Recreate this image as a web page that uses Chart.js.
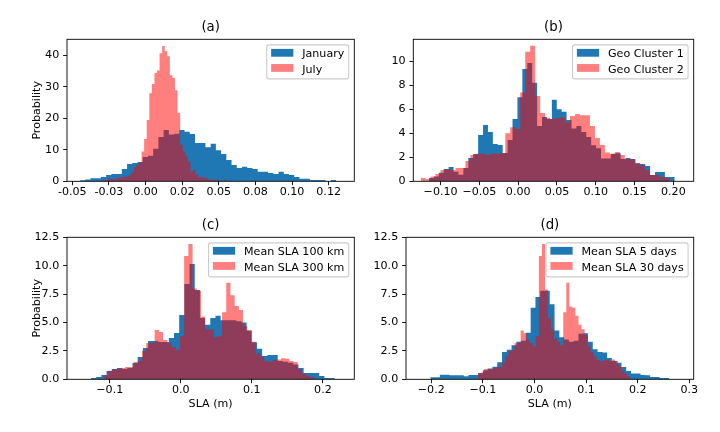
<!DOCTYPE html>
<html>
<head>
<meta charset="utf-8">
<script src="https://cdn.jsdelivr.net/npm/chart.js@4.4.0/dist/chart.umd.min.js"></script>
<style>
  body { margin: 0; background: #fff; }
  #fig { position: relative; width: 720px; height: 432px; }
  #fig canvas { position: absolute; left: 0; top: 0; }
</style>
</head>
<body>
<div id="fig">
  <canvas id="pa" width="720" height="432"></canvas>
  <canvas id="pb" width="720" height="432"></canvas>
  <canvas id="pc" width="720" height="432"></canvas>
  <canvas id="pd" width="720" height="432"></canvas>
</div>
<script>
// ---- (a) January / July ----
const janStart = -0.0447, janWidth = 0.003566;
const janCounts = [0.3, 0.6, 1.0, 1.0, 1.4, 2.0, 2.3, 2.3, 3.9, 5.5,
  5.8, 6.1, 7.7, 8.1, 10.3, 14.1, 16.3, 14.9, 15.1, 16.3,
  15.7, 15.0, 12.2, 12.2, 10.8, 11.9, 9.9, 8.7, 6.8, 5.2,
  4.2, 4.6, 4.2, 3.9, 3.0, 3.0, 2.6, 2.3, 3.0, 2.3,
  2.0, 1.4, 0.8, 0.8, 0.4, 0.4, 0.4, 0.1, 0.4, 0.05];
const julStart = -0.0308, julWidth = 0.001756;
const julCounts = [0.2, 0.3, 0.3, 0.9, 0.7, 0.6, 1.0, 1.2, 1.4, 1.4,
  1.5, 2.0, 2.8, 4.5, 5.3, 6.0, 9.5, 13.4, 19.5, 28.0,
  30.9, 34.4, 35.2, 40.7, 43.0, 41.3, 39.7, 33.7, 32.8, 28.9,
  21.7, 11.6, 9.5, 7.9, 6.3, 3.0, 3.7, 2.1, 1.4, 1.4,
  1.2, 1.0, 0.5, 0.5, 0.5, 0.5, 0.1, 0.1, 0.5, 0.1];
const aXTicks = [-0.05, -0.025, 0, 0.025, 0.05, 0.075, 0.1, 0.125];
const aXLabels = ['-0.05', '-0.03', '0.00', '0.02', '0.05', '0.08', '0.10', '0.12'];
const aYTicks = [0, 10, 20, 30, 40];
const aYLabels = ['0', '10', '20', '30', '40'];

// ---- (b) Geo clusters ----
const geo1Start = -0.115, geo1Width = 0.006335;
const geo1Counts = [0.28, 0.39, 0.72, 1.03, 1.19, 0.8, 0.55, 1.1, 1.94, 2.28,
  3.86, 4.7, 4.1, 3.1, 3.03, 2.36, 3.44, 5.2, 7.0, 9.36,
  9.86, 8.2, 4.6, 5.36, 5.2, 6.8, 6.0, 5.8, 5.1, 4.4,
  4.6, 4.1, 3.7, 3.0, 2.75, 1.9, 1.9, 2.3, 2.33, 1.86,
  1.94, 1.86, 1.5, 1.44, 1.28, 0.53, 0.78, 0.78, 0.36, 0.36];
const geo2Start = -0.1258, geo2Width = 0.00642;
const geo2Counts = [0.28, 0.2, 0.4, 0.6, 0.95, 1.0, 0.95, 1.1, 1.1, 1.7,
  2.2, 2.3, 2.3, 2.2, 2.3, 2.3, 2.35, 4.0, 4.5, 4.36,
  7.4, 10.8, 11.3, 7.1, 5.7, 5.3, 5.2, 5.3, 5.33, 4.9,
  5.44, 5.6, 5.5, 5.5, 4.6, 3.6, 3.03, 2.4, 2.28, 2.44,
  2.2, 1.86, 1.86, 1.5, 1.36, 0.94, 0.53, 0.53, 0.36, 0.28];
const bXTicks = [-0.10, -0.05, 0, 0.05, 0.10, 0.15, 0.20];
const bXLabels = ['\u22120.10', '\u22120.05', '0.00', '0.05', '0.10', '0.15', '0.20'];
const bYTicks = [0, 2, 4, 6, 8, 10];
const bYLabels = ['0', '2', '4', '6', '8', '10'];

// ---- (c) Mean SLA 100 km / 300 km ----
const km100Start = -0.1264, km100Width = 0.0073;
const km100Counts = [0.12, 0.2, 0.38, 0.73, 0.9, 1.0, 0.9, 1.0, 1.44, 1.96,
  2.76, 3.37, 3.37, 3.28, 3.28, 3.64, 4.08, 5.66, 8.39, 10.15,
  7.86, 5.4, 4.8, 5.4, 5.6, 5.2, 5.2, 5.2, 5.1, 5.0,
  4.3, 3.27, 2.7, 2.05, 2.15, 2.15, 1.6, 1.55, 1.45, 1.3,
  1.0, 0.56, 0.56, 0.56, 0.3, 0.12, 0.12];
const km300Start = -0.1079, km300Width = 0.005926;
const km300Counts = [0.38, 0.75, 0.9, 0.9, 1.0, 1.08, 1.08, 1.52, 1.6, 2.5,
  3.2, 3.2, 4.34, 4.16, 3.46, 3.2, 2.84, 2.6, 3.8, 10.85,
  11.9, 8.0, 7.8, 5.5, 4.4, 4.4, 3.7, 3.8, 5.9, 8.5,
  7.4, 6.45, 6.1, 4.7, 4.3, 3.3, 2.3, 2.0, 1.6, 1.55,
  1.7, 1.75, 1.85, 1.8, 1.62, 1.52, 0.9, 0.5, 0.3, 0.2];
const cXTicks = [-0.1, 0, 0.1, 0.2];
const cXLabels = ['\u22120.1', '0.0', '0.1', '0.2'];

// ---- (d) Mean SLA 5 days / 30 days ----
const day5Start = -0.2019, day5Width = 0.00926;
const day5Counts = [0.18, 0.18, 0.4, 0.4, 0.35, 0.35, 0.35, 0.26, 0.38, 0.38,
  0.56, 0.8, 0.95, 1.1, 1.5, 2.4, 2.6, 3.0, 3.3, 3.4,
  4.1, 6.3, 7.24, 7.8, 7.8, 6.6, 4.3, 3.7, 3.5, 3.3,
  3.4, 4.0, 4.05, 3.3, 2.64, 2.4, 2.35, 1.88, 1.6, 1.45,
  1.08, 0.73, 0.5, 0.5, 0.38, 0.35, 0.2, 0.2, 0.12, 0.12];
const day30Start = -0.1095, day30Width = 0.0059;
const day30Counts = [0.5, 0.6, 0.9, 0.9, 0.9, 1.0, 1.08, 1.1, 1.5, 2.0,
  2.5, 2.58, 3.17, 3.2, 4.3, 4.05, 3.5, 3.2, 2.9, 3.8,
  10.85, 11.9, 7.9, 5.4, 4.4, 3.6, 3.3, 3.0, 5.9, 8.5,
  6.4, 6.3, 5.6, 4.8, 4.4, 3.9, 2.9, 2.4, 2.0, 1.7,
  1.6, 1.65, 1.7, 1.6, 1.75, 1.6, 1.2, 0.8, 0.5, 0.3];
const dXTicks = [-0.2, -0.1, 0, 0.1, 0.2, 0.3];
const dXLabels = ['\u22120.2', '\u22120.1', '0.0', '0.1', '0.2', '0.3'];
const cdYTicks = [0, 2.5, 5, 7.5, 10, 12.5];
const cdYLabels = ['0.0', '2.5', '5.0', '7.5', '10.0', '12.5'];

const BLUE = '#1f77b4';
const RED = 'rgba(255, 0, 0, 0.5)';

Chart.defaults.font.family = "'DejaVu Sans', sans-serif";
Chart.defaults.font.size = 11.1;
Chart.defaults.color = '#000';

// bin edges -> stepped points (last edge repeats the last count)
function histPoints(start, width, counts) {
  const pts = counts.map((c, i) => ({x: start + i * width, y: c}));
  pts.push({x: start + counts.length * width, y: counts[counts.length - 1]});
  return pts;
}

// axes box + matplotlib-like legend in the upper right
const frameAndLegend = {
  id: 'frameAndLegend',
  afterDatasetsDraw(chart) {
    const {ctx, chartArea: a} = chart;
    ctx.save();
    ctx.strokeStyle = '#000';
    ctx.lineWidth = 0.9;
    ctx.strokeRect(a.left, a.top, a.right - a.left, a.bottom - a.top);
    ctx.restore();
  },
  afterDraw(chart) {
    const {ctx, chartArea: a} = chart;
    const items = chart.data.datasets;
    ctx.save();
    ctx.font = "11.1px 'DejaVu Sans', sans-serif";
    const textW = Math.max(...items.map(d => ctx.measureText(d.label).width));
    const w = 35.5 + textW + 4.4, h = 34;
    const x0 = a.right - 5.6 - w, y0 = a.top + 5.6;
    ctx.beginPath();
    ctx.roundRect(x0, y0, w, h, 2.2);
    ctx.fillStyle = 'rgba(255,255,255,0.8)';
    ctx.fill();
    ctx.strokeStyle = '#cccccc';
    ctx.lineWidth = 1.1;
    ctx.stroke();
    items.forEach((d, i) => {
      const cy = y0 + 7.9 + i * 15.15;
      ctx.fillStyle = d.backgroundColor;
      ctx.fillRect(x0 + 4.4, cy - 3.9, 22.2, 7.8);
      ctx.fillStyle = '#000';
      ctx.textBaseline = 'alphabetic';
      ctx.fillText(d.label, x0 + 35.5, cy + 4.55);
    });
    ctx.restore();
  }
};

const HIST = {
  stepped: true,
  fill: 'origin',
  pointRadius: 0,
  borderWidth: 0,
  borderColor: 'rgba(0,0,0,0)'
};

function panel(id, p) {
  const H = p.xTitle ? 31.9 : 20;
  return new Chart(document.getElementById(id), {
    type: 'line',
    data: {
      datasets: [
        Object.assign({label: p.names[0], data: histPoints(...p.blue), backgroundColor: BLUE, order: 1}, HIST),
        Object.assign({label: p.names[1], data: histPoints(...p.red), backgroundColor: RED, order: 0}, HIST)
      ]
    },
    options: {
      responsive: false,
      animation: false,
      events: [],
      layout: {padding: {left: p.padLeft, top: p.T - 19.28, right: 720 - p.R, bottom: 432 - p.B - H}},
      plugins: {
        legend: {display: false},
        tooltip: {enabled: false},
        title: {display: true, text: p.title, fullSize: false, color: '#000',
          font: {size: 13.3, weight: 'normal'}, padding: {top: 0, bottom: 3.32}}
      },
      scales: {
        x: {
          type: 'linear', min: p.xMin, max: p.xMax,
          afterBuildTicks: s => { s.ticks = p.xTicks.map(v => ({value: v})); },
          afterFit: s => { s.height = H; },
          ticks: {callback: (v, i) => p.xLabels[i], padding: 0, maxRotation: 0, autoSkip: false, color: '#000'},
          grid: {display: true, drawOnChartArea: false, drawTicks: true, tickLength: 3.9, color: '#000', lineWidth: 0.9},
          border: {display: false},
          title: {display: !!p.xTitle, text: p.xTitle, color: '#000', padding: 0}
        },
        y: {
          type: 'linear', min: 0, max: p.yMax,
          afterBuildTicks: s => { s.ticks = p.yTicks.map(v => ({value: v})); },
          afterFit: s => { s.width = p.L - p.padLeft; },
          ticks: {callback: (v, i) => p.yLabels[i], padding: 3.9, autoSkip: false, color: '#000'},
          grid: {display: true, drawOnChartArea: false, drawTicks: true, tickLength: 3.9, color: '#000', lineWidth: 0.9},
          border: {display: false},
          title: {display: !!p.yTitle, text: p.yTitle, color: '#000', padding: 0}
        }
      }
    },
    plugins: [frameAndLegend]
  });
}

panel('pa', {
  title: '(a)', names: ['January', 'July'],
  blue: [janStart, janWidth, janCounts], red: [julStart, julWidth, julCounts],
  xMin: -0.0536, xMax: 0.1425, xTicks: aXTicks, xLabels: aXLabels,
  yMax: 45.1, yTicks: aYTicks, yLabels: aYLabels, yTitle: 'Probability', xTitle: '',
  L: 67, T: 39.3, R: 354.3, B: 181.3, padLeft: 30.7
});
panel('pb', {
  title: '(b)', names: ['Geo Cluster 1', 'Geo Cluster 2'],
  blue: [geo1Start, geo1Width, geo1Counts], red: [geo2Start, geo2Width, geo2Counts],
  xMin: -0.1352, xMax: 0.2262, xTicks: bXTicks, xLabels: bXLabels,
  yMax: 11.83, yTicks: bYTicks, yLabels: bYLabels, yTitle: '', xTitle: '',
  L: 413.3, T: 39.3, R: 693.7, B: 181.3, padLeft: 378.3
});
panel('pc', {
  title: '(c)', names: ['Mean SLA 100 km', 'Mean SLA 300 km'],
  blue: [km100Start, km100Width, km100Counts], red: [km300Start, km300Width, km300Counts],
  xMin: -0.1602, xMax: 0.2442, xTicks: cXTicks, xLabels: cXLabels,
  yMax: 12.5, yTicks: cdYTicks, yLabels: cdYLabels, yTitle: 'Probability', xTitle: 'SLA (m)',
  L: 67, T: 237.3, R: 354.3, B: 379.3, padLeft: 30.7
});
panel('pd', {
  title: '(d)', names: ['Mean SLA 5 days', 'Mean SLA 30 days'],
  blue: [day5Start, day5Width, day5Counts], red: [day30Start, day30Width, day30Counts],
  xMin: -0.249, xMax: 0.3085, xTicks: dXTicks, xLabels: dXLabels,
  yMax: 12.5, yTicks: cdYTicks, yLabels: cdYLabels, yTitle: '', xTitle: 'SLA (m)',
  L: 406, T: 237.3, R: 693.7, B: 379.3, padLeft: 371
});
</script>
</body>
</html>
